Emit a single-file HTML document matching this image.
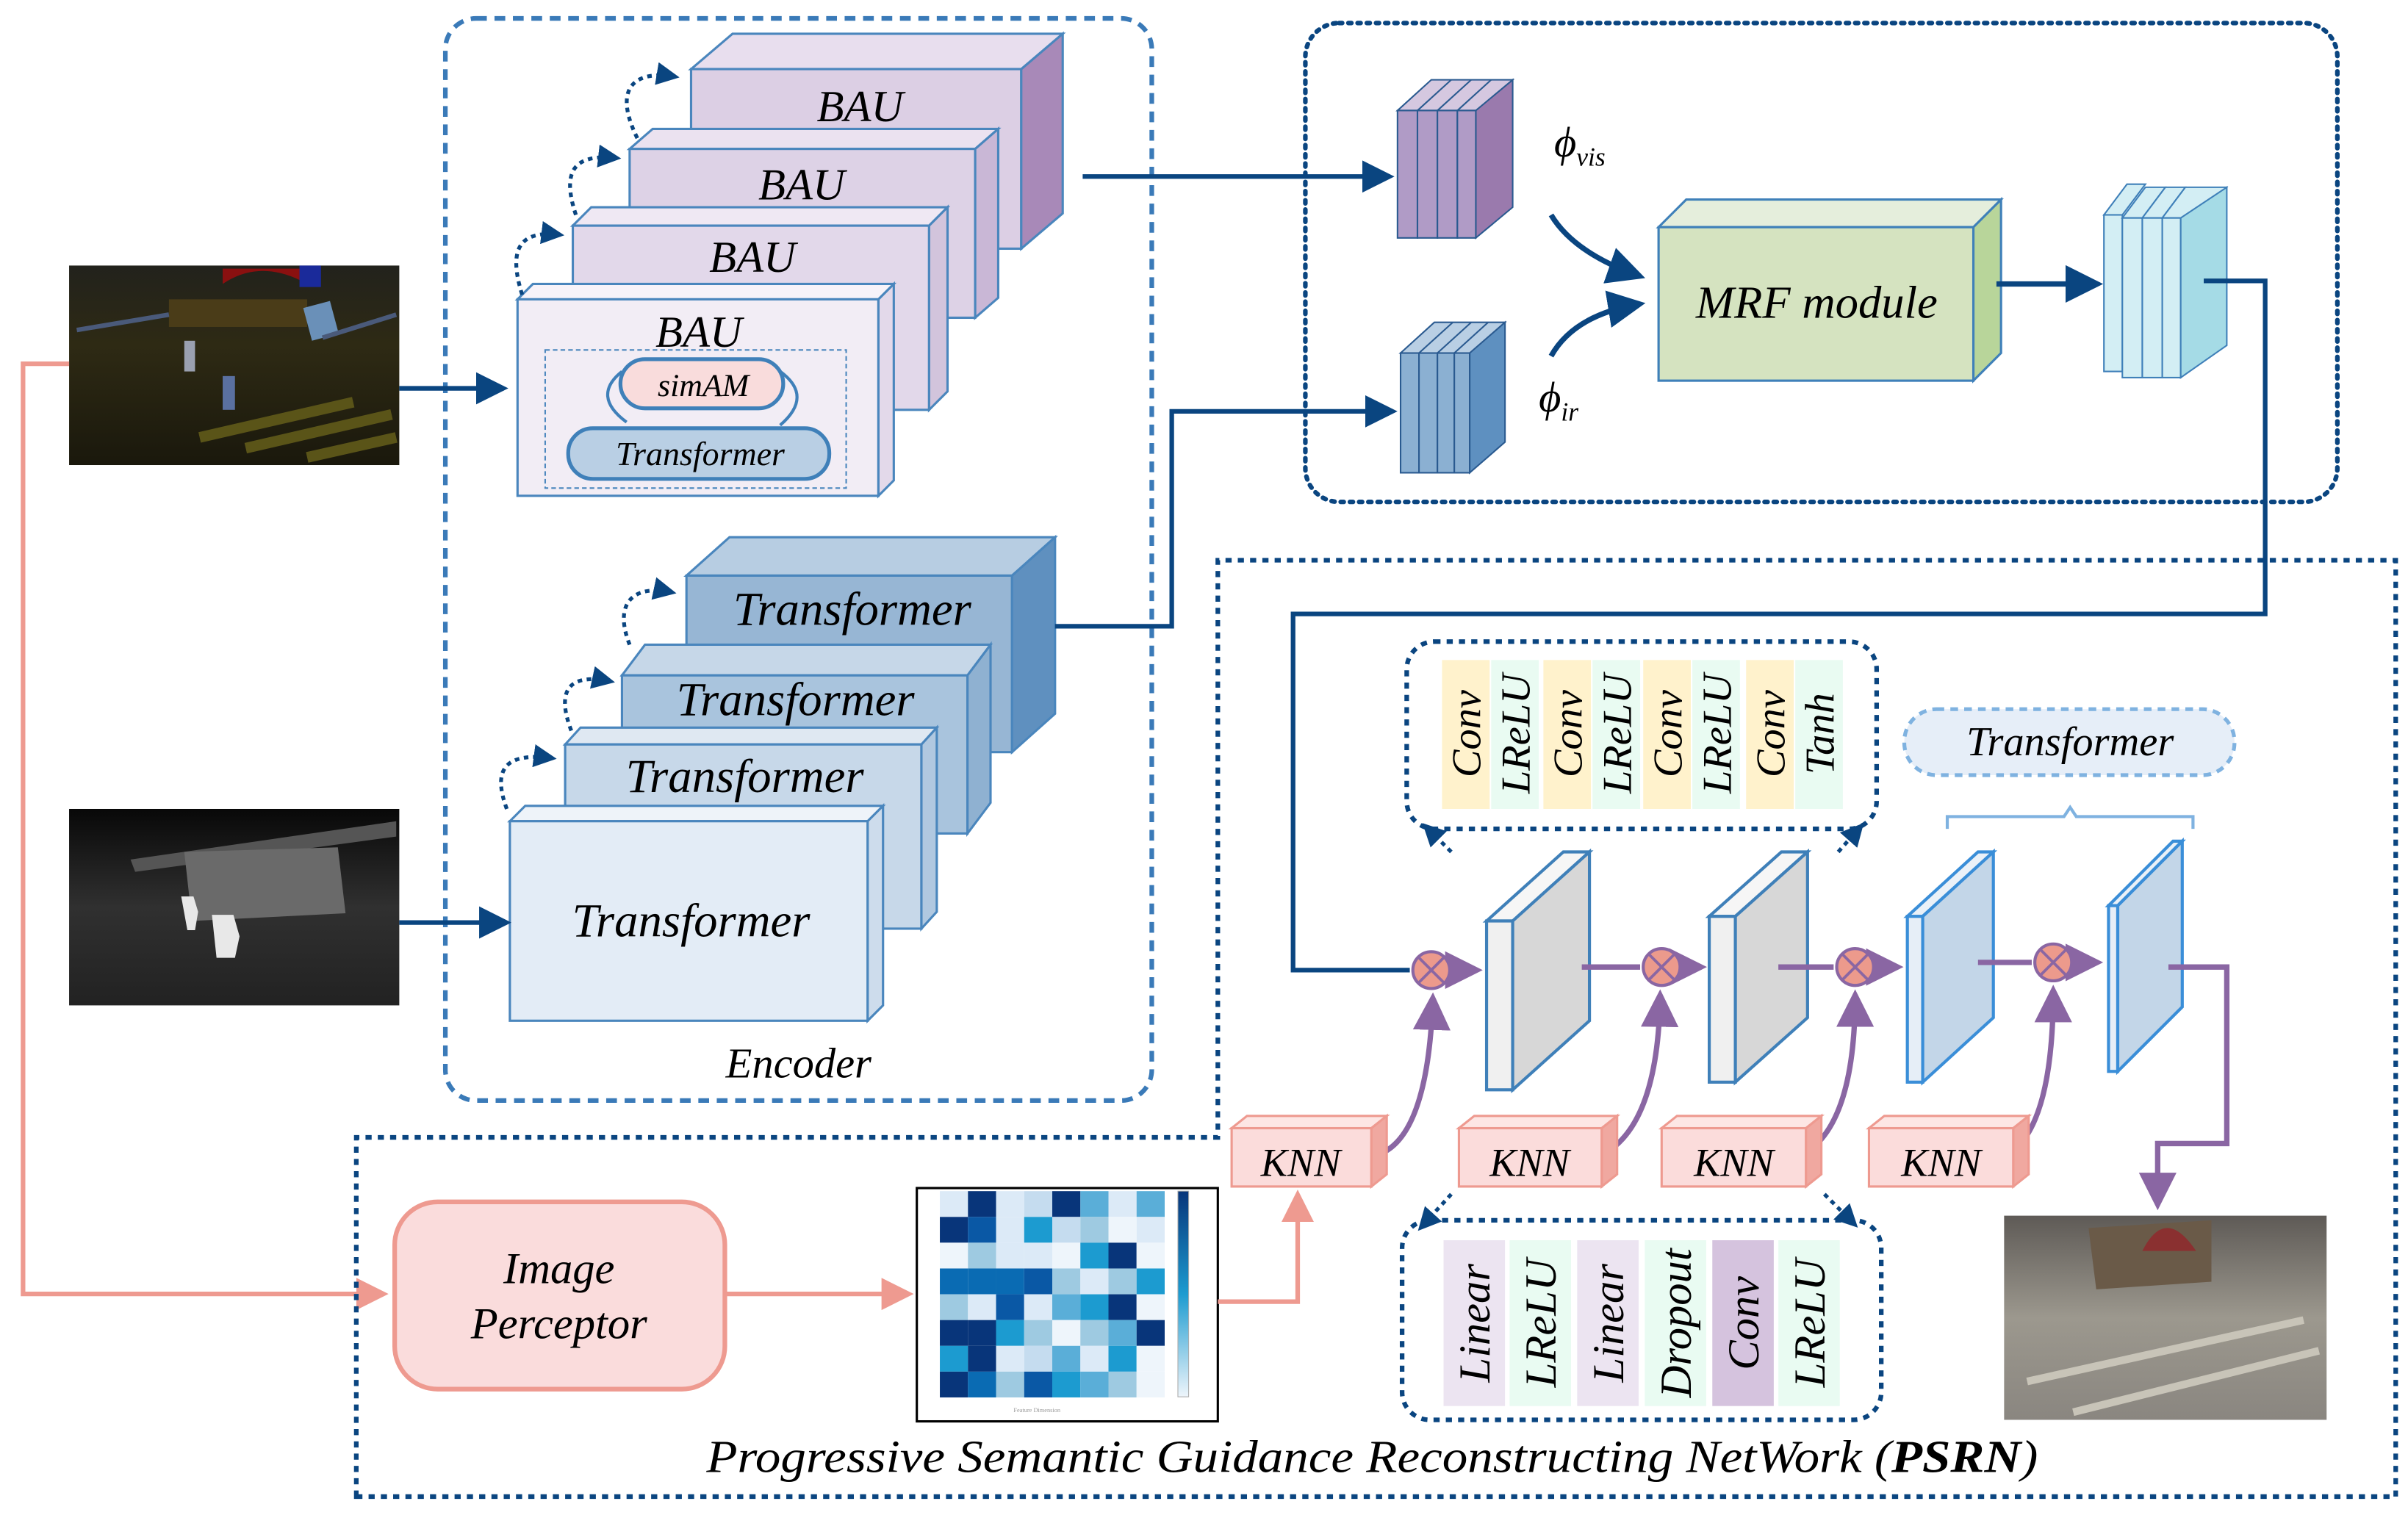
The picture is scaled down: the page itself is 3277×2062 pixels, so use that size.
<!DOCTYPE html>
<html><head><meta charset="utf-8"><style>
html,body{margin:0;padding:0;background:#fff;}
svg{display:block;}
text{font-family:"Liberation Serif","Times New Roman",serif;font-style:italic;fill:#000;}
</style></head><body>
<svg width="3277" height="2062" viewBox="0 0 1568 987" preserveAspectRatio="none" xmlns="http://www.w3.org/2000/svg" font-family="Liberation Serif, serif">
<defs>
<marker id="an" markerWidth="8" markerHeight="8" refX="6" refY="4" orient="auto" markerUnits="strokeWidth"><path d="M0,0.5 L7,4 L0,7.5 Z" fill="#0a4580"/></marker>
<marker id="ap" markerWidth="8" markerHeight="8" refX="6" refY="4" orient="auto" markerUnits="strokeWidth"><path d="M0,0.5 L7,4 L0,7.5 Z" fill="#8a66a3"/></marker>
<marker id="ak" markerWidth="8" markerHeight="8" refX="6" refY="4" orient="auto" markerUnits="strokeWidth"><path d="M0,0.5 L7,4 L0,7.5 Z" fill="#ee9a90"/></marker>
<marker id="ad" markerWidth="6" markerHeight="6" refX="5" refY="3" orient="auto" markerUnits="strokeWidth"><path d="M0,0 L6,3 L0,6 Z" fill="#0a4580"/></marker>
<linearGradient id="vis" x1="0" y1="0" x2="0" y2="1"><stop offset="0" stop-color="#22221c"/><stop offset="0.4" stop-color="#2e2a14"/><stop offset="1" stop-color="#1a180c"/></linearGradient>
<linearGradient id="ir" x1="0" y1="0" x2="0" y2="1"><stop offset="0" stop-color="#080808"/><stop offset="0.5" stop-color="#303030"/><stop offset="1" stop-color="#222"/></linearGradient>
<linearGradient id="out" x1="0" y1="0" x2="0" y2="1"><stop offset="0" stop-color="#5e5a56"/><stop offset="0.5" stop-color="#9c988e"/><stop offset="1" stop-color="#8a8680"/></linearGradient>
<linearGradient id="cb" x1="0" y1="1" x2="0" y2="0"><stop offset="0" stop-color="#eef5fb"/><stop offset="0.5" stop-color="#1c9bd0"/><stop offset="1" stop-color="#08357a"/></linearGradient>
</defs>

<!-- images -->
<rect x="45" y="173" width="215" height="130" fill="url(#vis)"/>
<path d="M145,185 Q170,168 200,185 L200,175 L145,175 Z" fill="#8a1010"/>
<rect x="195" y="173" width="14" height="14" fill="#1a2a9a"/>
<rect x="110" y="195" width="90" height="18" fill="#4a3c18"/>
<rect x="200" y="198" width="18" height="22" fill="#6a90b8" transform="rotate(-15 209 209)"/>
<path d="M130,285 L230,262 M160,292 L255,270 M200,298 L258,285" stroke="#5a5418" stroke-width="7"/>
<path d="M50,215 L110,205 M210,220 L258,205" stroke="#4a5a7a" stroke-width="3"/>
<rect x="120" y="222" width="7" height="20" fill="#9aa0b0"/><rect x="145" y="245" width="8" height="22" fill="#5a70a0"/>
<rect x="45" y="527" width="215" height="128" fill="url(#ir)"/>
<path d="M85,560 L258,535 L258,545 L88,568 Z" fill="#555"/>
<path d="M120,555 L220,552 L225,595 L125,600 Z" fill="#6a6a6a"/>
<path d="M118,584 l8,0 l3,10 l-2,12 l-5,0 z M138,596 l14,0 l4,14 l-3,14 l-12,0 z" fill="#e8e8e8"/>
<rect x="1305" y="792" width="210" height="133" fill="url(#out)"/>
<path d="M1360,800 L1440,795 L1440,835 L1365,840 Z" fill="#6a5a48"/>
<path d="M1395,815 Q1410,785 1430,815 Z" fill="#8a3030"/>
<path d="M1320,900 L1500,860 M1350,920 L1510,880" stroke="#c8c4b8" stroke-width="5"/>

<!-- pink left path -->
<path d="M45,237 L15,237 L15,843 L250,843" fill="none" stroke="#ee9a90" stroke-width="3" marker-end="url(#ak)"/>
<rect x="257" y="783" width="215" height="122" rx="28" fill="#fadcdc" stroke="#ee9a90" stroke-width="3"/>
<text x="364" y="836" font-size="29" text-anchor="middle">Image</text>
<text x="364" y="872" font-size="29" text-anchor="middle">Perceptor</text>
<path d="M472,843 L592,843" stroke="#ee9a90" stroke-width="3" marker-end="url(#ak)"/>

<!-- heatmap -->
<rect x="597" y="774" width="196" height="152" fill="#fff" stroke="#000" stroke-width="1.5"/>

<!-- encoder box -->
<rect x="290" y="12" width="460" height="705" rx="20" fill="none" stroke="#3a7ab8" stroke-width="3" stroke-dasharray="7,5"/>
<text x="520" y="702" font-size="28" text-anchor="middle">Encoder</text>

<!-- BAU stack -->
<g stroke="#4a86bd" stroke-width="1.5">
<polygon points="450,45 477,22 692,22 665,45" fill="#e8deee"/><rect x="450" y="45" width="215" height="117" fill="#dccfe4"/><polygon points="665,45 692,22 692,139 665,162" fill="#a889b8"/>
<polygon points="410,97 425,84 650,84 635,97" fill="#ebe2f0"/><rect x="410" y="97" width="225" height="110" fill="#ddd2e6"/><polygon points="635,97 650,84 650,194 635,207" fill="#c9b7d6"/>
<polygon points="373,147 385,135 617,135 605,147" fill="#efe8f3"/><rect x="373" y="147" width="232" height="120" fill="#e2d8ea"/><polygon points="605,147 617,135 617,255 605,267" fill="#d2c4dc"/>
<polygon points="337,195 347,185 582,185 572,195" fill="#f7f3f9"/><rect x="337" y="195" width="235" height="128" fill="#f2edf5"/><polygon points="572,195 582,185 582,313 572,323" fill="#e3d9ea"/>
</g>
<text x="560" y="79" font-size="29" text-anchor="middle">BAU</text>
<text x="522" y="130" font-size="29" text-anchor="middle">BAU</text>
<text x="490" y="177" font-size="29" text-anchor="middle">BAU</text>
<text x="455" y="226" font-size="29" text-anchor="middle">BAU</text>
<rect x="355" y="228" width="196" height="90" fill="none" stroke="#4a86bd" stroke-width="1" stroke-dasharray="3,2"/>
<path d="M408,275 Q385,258 405,242 M508,242 Q530,258 508,277" fill="none" stroke="#3f80b9" stroke-width="2"/>
<rect x="404" y="234" width="106" height="32" rx="16" fill="#f9dcdc" stroke="#3f80b9" stroke-width="2.5"/>
<text x="458" y="258" font-size="21" text-anchor="middle">simAM</text>
<rect x="370" y="279" width="170" height="33" rx="16" fill="#b9cfe4" stroke="#3f80b9" stroke-width="2.5"/>
<text x="456" y="303" font-size="22" text-anchor="middle">Transformer</text>

<!-- Transformer stack -->
<g stroke="#4a86bd" stroke-width="1.5">
<polygon points="447,375 475,350 687,350 659,375" fill="#b7cde2"/><rect x="447" y="375" width="212" height="115" fill="#97b6d4"/><polygon points="659,375 687,350 687,465 659,490" fill="#5f90bf"/>
<polygon points="405,440 420,420 645,420 630,440" fill="#c6d7e8"/><rect x="405" y="440" width="225" height="103" fill="#a9c4dd"/><polygon points="630,440 645,420 645,523 630,543" fill="#8fb1d1"/>
<polygon points="368,485 378,474 610,474 600,485" fill="#dfe8f2"/><rect x="368" y="485" width="232" height="120" fill="#c7d8e9"/><polygon points="600,485 610,474 610,594 600,605" fill="#b0c8e0"/>
<polygon points="332,535 342,525 575,525 565,535" fill="#eef3f9"/><rect x="332" y="535" width="233" height="130" fill="#e3ecf6"/><polygon points="565,535 575,525 575,655 565,665" fill="#cddcec"/>
</g>
<text x="555" y="407" font-size="31" text-anchor="middle">Transformer</text>
<text x="518" y="466" font-size="31" text-anchor="middle">Transformer</text>
<text x="485" y="516" font-size="31" text-anchor="middle">Transformer</text>
<text x="450" y="610" font-size="31" text-anchor="middle">Transformer</text>

<!-- self loops -->
<g fill="none" stroke="#0a4580" stroke-width="2.5" stroke-dasharray="3,3">
<path d="M415,90 C400,60 410,45 440,50" marker-end="url(#ad)"/>
<path d="M375,140 C365,110 375,100 402,103" marker-end="url(#ad)"/>
<path d="M340,192 C330,160 340,150 365,153" marker-end="url(#ad)"/>
<path d="M410,420 C400,395 410,380 438,386" marker-end="url(#ad)"/>
<path d="M372,476 C362,450 370,438 398,444" marker-end="url(#ad)"/>
<path d="M330,527 C320,500 330,490 360,494" marker-end="url(#ad)"/>
</g>

<!-- input arrows -->
<path d="M260,253 L328,253" stroke="#0a4580" stroke-width="3" marker-end="url(#an)"/>
<path d="M260,601 L330,601" stroke="#0a4580" stroke-width="3" marker-end="url(#an)"/>

<!-- MRF box -->
<rect x="850" y="15" width="672" height="312" rx="22" fill="none" stroke="#0a4580" stroke-width="3" stroke-dasharray="2,4" stroke-linecap="round"/>
<path d="M705,115 L905,115" stroke="#0a4580" stroke-width="3" marker-end="url(#an)"/>
<path d="M687,408 L763,408 L763,268 L907,268" fill="none" stroke="#0a4580" stroke-width="3" marker-end="url(#an)"/>

<!-- features -->
<g stroke="#2a5a90" stroke-width="1">
<polygon points="910,72 932,52 985,52 963,72" fill="#d5c8e0"/>
<polygon points="961,72 985,52 985,135 961,155" fill="#9a7aad"/>
<rect x="910" y="72" width="13" height="83" fill="#b09bc6"/><rect x="923" y="72" width="13" height="83" fill="#b09bc6"/><rect x="936" y="72" width="13" height="83" fill="#b09bc6"/><rect x="949" y="72" width="12" height="83" fill="#b09bc6"/>
<line x1="923" y1="72" x2="945" y2="52"/><line x1="936" y1="72" x2="958" y2="52"/><line x1="949" y1="72" x2="971" y2="52"/>
<polygon points="912,230 934,210 980,210 958,230" fill="#b9cfe4"/>
<polygon points="957,230 980,210 980,288 957,308" fill="#5e90c0"/>
<rect x="912" y="230" width="12" height="78" fill="#8bb0d2"/><rect x="924" y="230" width="12" height="78" fill="#8bb0d2"/><rect x="936" y="230" width="11" height="78" fill="#8bb0d2"/><rect x="947" y="230" width="10" height="78" fill="#8bb0d2"/>
<line x1="924" y1="230" x2="946" y2="210"/><line x1="936" y1="230" x2="958" y2="210"/><line x1="947" y1="230" x2="969" y2="210"/>
</g>
<text x="1012" y="102" font-size="28">ϕ<tspan font-size="17" dy="6">vis</tspan></text>
<text x="1002" y="268" font-size="28">ϕ<tspan font-size="17" dy="6">ir</tspan></text>
<path d="M1010,140 Q1025,165 1068,180" fill="none" stroke="#0a4580" stroke-width="3.5" marker-end="url(#an)"/>
<path d="M1010,232 Q1025,205 1068,198" fill="none" stroke="#0a4580" stroke-width="3.5" marker-end="url(#an)"/>
<g stroke="#3f80b9" stroke-width="1.5">
<polygon points="1080,148 1098,130 1303,130 1285,148" fill="#e5eedc"/>
<rect x="1080" y="148" width="205" height="100" fill="#d5e3c0"/>
<polygon points="1285,148 1303,130 1303,230 1285,248" fill="#b8d59a"/>
</g>
<text x="1183" y="207" font-size="30" text-anchor="middle">MRF module</text>
<path d="M1300,185 L1366,185" stroke="#0a4580" stroke-width="3.5" marker-end="url(#an)"/>
<g stroke="#3f80b9" stroke-width="1">
<polygon points="1370,140 1385,120 1397,120 1382,140" fill="#d3eef4"/><rect x="1370" y="140" width="12" height="102" fill="#d3eef4"/>
<polygon points="1382,142 1397,122 1410,122 1395,142" fill="#d3eef4"/><rect x="1382" y="142" width="13" height="104" fill="#d3eef4"/>
<polygon points="1395,142 1410,122 1423,122 1408,142" fill="#d3eef4"/><rect x="1395" y="142" width="13" height="104" fill="#d3eef4"/>
<polygon points="1408,142 1423,122 1450,122 1435,142" fill="#d3eef4"/><rect x="1408" y="142" width="12" height="104" fill="#d3eef4"/>
<polygon points="1420,142 1450,122 1450,225 1420,246" fill="#a5dbe6"/>
</g>
<path d="M1435,183 L1475,183 L1475,400 L842,400 L842,632 L918,632" fill="none" stroke="#0a4580" stroke-width="3"/>

<!-- PSRN box -->
<path d="M232,975 L232,741 L793,741 L793,365 L1560,365 L1560,975 Z" fill="none" stroke="#0a4580" stroke-width="3" stroke-dasharray="4,4"/>
<text x="460" y="959" font-size="30" textLength="867" lengthAdjust="spacingAndGlyphs">Progressive Semantic Guidance Reconstructing NetWork (<tspan font-weight="bold">PSRN</tspan>)</text>

<!-- conv block -->
<rect x="916" y="418" width="306" height="122" rx="18" fill="none" stroke="#0a4580" stroke-width="3" stroke-dasharray="4,4"/>
<rect x="939" y="430" width="31" height="97" fill="#fff2cc"/><rect x="971" y="430" width="31" height="97" fill="#e9fbf2"/>
<rect x="1005" y="430" width="31" height="97" fill="#fff2cc"/><rect x="1037" y="430" width="31" height="97" fill="#e9fbf2"/>
<rect x="1070" y="430" width="31" height="97" fill="#fff2cc"/><rect x="1102" y="430" width="31" height="97" fill="#e9fbf2"/>
<rect x="1137" y="430" width="31" height="97" fill="#fff2cc"/><rect x="1169" y="430" width="31" height="97" fill="#e9fbf2"/>
<g font-size="27">
<text transform="translate(964,478) rotate(-90)" text-anchor="middle">Conv</text>
<text transform="translate(996,478) rotate(-90)" text-anchor="middle">LReLU</text>
<text transform="translate(1030,478) rotate(-90)" text-anchor="middle">Conv</text>
<text transform="translate(1062,478) rotate(-90)" text-anchor="middle">LReLU</text>
<text transform="translate(1095,478) rotate(-90)" text-anchor="middle">Conv</text>
<text transform="translate(1127,478) rotate(-90)" text-anchor="middle">LReLU</text>
<text transform="translate(1162,478) rotate(-90)" text-anchor="middle">Conv</text>
<text transform="translate(1194,478) rotate(-90)" text-anchor="middle">Tanh</text>
</g>
<path d="M945,555 L928,538" stroke="#0a4580" stroke-width="2.5" stroke-dasharray="3,3" marker-end="url(#ad)"/>
<path d="M1197,555 L1212,538" stroke="#0a4580" stroke-width="2.5" stroke-dasharray="3,3" marker-end="url(#ad)"/>

<!-- transformer pill -->
<rect x="1240" y="462" width="215" height="43" rx="21" fill="#e6eef8" stroke="#7fb2e0" stroke-width="2.5" stroke-dasharray="5,4"/>
<text x="1348" y="492" font-size="27" text-anchor="middle">Transformer</text>
<path d="M1268,540 L1268,532 L1344,532 L1348,526 L1352,532 L1428,532 L1428,540" fill="none" stroke="#7fb2e0" stroke-width="2"/>

<!-- plates -->
<g stroke="#3f80b9" stroke-width="2">
<polygon points="968,600 1018,555 1035,555 985,600" fill="#f6f6f6"/><rect x="968" y="600" width="17" height="110" fill="#f0f0f0"/><polygon points="985,600 1035,555 1035,665 985,710" fill="#d7d7d7"/>
<polygon points="1113,597 1160,555 1177,555 1130,597" fill="#f6f6f6"/><rect x="1113" y="597" width="17" height="108" fill="#f0f0f0"/><polygon points="1130,597 1177,555 1177,663 1130,705" fill="#d7d7d7"/>
</g>
<g stroke="#3a8ed8" stroke-width="2">
<polygon points="1242,597 1288,555 1298,555 1252,597" fill="#eaf1f8"/><rect x="1242" y="597" width="10" height="108" fill="#e6eef7"/><polygon points="1252,597 1298,555 1298,663 1252,705" fill="#c3d6e8"/>
<polygon points="1373,590 1415,548 1421,548 1379,590" fill="#eaf1f8"/><rect x="1373" y="590" width="6" height="108" fill="#e6eef7"/><polygon points="1379,590 1421,548 1421,656 1379,698" fill="#c3d6e8"/>
</g>

<!-- purple flows -->
<g fill="none" stroke="#8a66a3" stroke-width="3.5">
<path d="M944,632 L962,632" marker-end="url(#ap)"/>
<path d="M1030,630 L1068,630"/><path d="M1094,630 L1108,630" marker-end="url(#ap)"/>
<path d="M1158,630 L1194,630"/><path d="M1220,630 L1236,630" marker-end="url(#ap)"/>
<path d="M1288,627 L1323,627"/><path d="M1349,627 L1366,627" marker-end="url(#ap)"/>
<path d="M1412,630 L1450,630 L1450,745 L1405,745 L1405,785" marker-end="url(#ap)"/>
<path d="M898,752 Q930,740 933,650" marker-end="url(#ap)"/>
<path d="M1050,748 Q1080,725 1081,648" marker-end="url(#ap)"/>
<path d="M1180,748 Q1208,725 1208,648" marker-end="url(#ap)"/>
<path d="M1313,748 Q1337,725 1337,645" marker-end="url(#ap)"/>
</g>
<g fill="#ec9a8c" stroke="#8a66a3" stroke-width="2">
<circle cx="932" cy="632" r="12"/><circle cx="1082" cy="630" r="12"/><circle cx="1208" cy="630" r="12"/><circle cx="1337" cy="627" r="12"/>
</g>
<g stroke="#8a66a3" stroke-width="1.8">
<path d="M924,624 l16,16 M940,624 l-16,16"/><path d="M1074,622 l16,16 M1090,622 l-16,16"/><path d="M1200,622 l16,16 M1216,622 l-16,16"/><path d="M1329,619 l16,16 M1345,619 l-16,16"/>
</g>

<!-- KNN -->
<g stroke="#ee9a90" stroke-width="1.5">
<polygon points="802,735 812,727 903,727 893,735" fill="#fde6e4"/><rect x="802" y="735" width="91" height="38" fill="#fbdcdb"/><polygon points="893,735 903,727 903,765 893,773" fill="#f0a8a0"/>
<polygon points="950,735 960,727 1053,727 1043,735" fill="#fde6e4"/><rect x="950" y="735" width="93" height="38" fill="#fbdcdb"/><polygon points="1043,735 1053,727 1053,765 1043,773" fill="#f0a8a0"/>
<polygon points="1082,735 1092,727 1186,727 1176,735" fill="#fde6e4"/><rect x="1082" y="735" width="94" height="38" fill="#fbdcdb"/><polygon points="1176,735 1186,727 1186,765 1176,773" fill="#f0a8a0"/>
<polygon points="1217,735 1227,727 1321,727 1311,735" fill="#fde6e4"/><rect x="1217" y="735" width="94" height="38" fill="#fbdcdb"/><polygon points="1311,735 1321,727 1321,765 1311,773" fill="#f0a8a0"/>
</g>
<g font-size="26" text-anchor="middle">
<text x="847" y="766">KNN</text><text x="996" y="766">KNN</text><text x="1129" y="766">KNN</text><text x="1264" y="766">KNN</text>
</g>
<path d="M793,848 L845,848 L845,778" fill="none" stroke="#ee9a90" stroke-width="3" marker-end="url(#ak)"/>

<!-- linear block -->
<rect x="913" y="795" width="312" height="130" rx="18" fill="none" stroke="#0a4580" stroke-width="3" stroke-dasharray="4,4"/>
<path d="M945,778 L925,800" stroke="#0a4580" stroke-width="2.5" stroke-dasharray="3,3" marker-end="url(#ad)"/>
<path d="M1188,778 L1208,798" stroke="#0a4580" stroke-width="2.5" stroke-dasharray="3,3" marker-end="url(#ad)"/>
<rect x="940" y="808" width="40" height="108" fill="#ece4f1"/><rect x="983" y="808" width="40" height="108" fill="#e9fbf2"/>
<rect x="1027" y="808" width="40" height="108" fill="#ece4f1"/><rect x="1071" y="808" width="40" height="108" fill="#e9fbf2"/>
<rect x="1115" y="808" width="40" height="108" fill="#d5c3de"/><rect x="1158" y="808" width="40" height="108" fill="#e9fbf2"/>
<g font-size="29">
<text transform="translate(970,862) rotate(-90)" text-anchor="middle">Linear</text>
<text transform="translate(1013,862) rotate(-90)" text-anchor="middle">LReLU</text>
<text transform="translate(1057,862) rotate(-90)" text-anchor="middle">Linear</text>
<text transform="translate(1101,862) rotate(-90)" text-anchor="middle">Dropout</text>
<text transform="translate(1145,862) rotate(-90)" text-anchor="middle">Conv</text>
<text transform="translate(1188,862) rotate(-90)" text-anchor="middle">LReLU</text>
</g>

<!-- heatmap cells -->
<g>
<rect x="612" y="776" width="18.3" height="16.8" fill="#dceaf7"/><rect x="630.3" y="776" width="18.3" height="16.8" fill="#08357a"/><rect x="648.6" y="776" width="18.3" height="16.8" fill="#dceaf7"/><rect x="666.9" y="776" width="18.3" height="16.8" fill="#c5dcef"/><rect x="685.2" y="776" width="18.3" height="16.8" fill="#08357a"/><rect x="703.5" y="776" width="18.3" height="16.8" fill="#5aaed8"/><rect x="721.8" y="776" width="18.3" height="16.8" fill="#dceaf7"/><rect x="740.1" y="776" width="18.3" height="16.8" fill="#5aaed8"/>
<rect x="612" y="792.8" width="18.3" height="16.8" fill="#08357a"/><rect x="630.3" y="792.8" width="18.3" height="16.8" fill="#0a58a5"/><rect x="648.6" y="792.8" width="18.3" height="16.8" fill="#dceaf7"/><rect x="666.9" y="792.8" width="18.3" height="16.8" fill="#1c9bd0"/><rect x="685.2" y="792.8" width="18.3" height="16.8" fill="#c5dcef"/><rect x="703.5" y="792.8" width="18.3" height="16.8" fill="#9ecae1"/><rect x="721.8" y="792.8" width="18.3" height="16.8" fill="#eef5fb"/><rect x="740.1" y="792.8" width="18.3" height="16.8" fill="#dceaf7"/>
<rect x="612" y="809.6" width="18.3" height="16.8" fill="#eef5fb"/><rect x="630.3" y="809.6" width="18.3" height="16.8" fill="#9ecae1"/><rect x="648.6" y="809.6" width="18.3" height="16.8" fill="#dceaf7"/><rect x="666.9" y="809.6" width="18.3" height="16.8" fill="#dceaf7"/><rect x="685.2" y="809.6" width="18.3" height="16.8" fill="#eef5fb"/><rect x="703.5" y="809.6" width="18.3" height="16.8" fill="#1c9bd0"/><rect x="721.8" y="809.6" width="18.3" height="16.8" fill="#08357a"/><rect x="740.1" y="809.6" width="18.3" height="16.8" fill="#eef5fb"/>
<rect x="612" y="826.4" width="18.3" height="16.8" fill="#0a6bb3"/><rect x="630.3" y="826.4" width="18.3" height="16.8" fill="#0a6bb3"/><rect x="648.6" y="826.4" width="18.3" height="16.8" fill="#0a6bb3"/><rect x="666.9" y="826.4" width="18.3" height="16.8" fill="#0a58a5"/><rect x="685.2" y="826.4" width="18.3" height="16.8" fill="#9ecae1"/><rect x="703.5" y="826.4" width="18.3" height="16.8" fill="#dceaf7"/><rect x="721.8" y="826.4" width="18.3" height="16.8" fill="#9ecae1"/><rect x="740.1" y="826.4" width="18.3" height="16.8" fill="#1c9bd0"/>
<rect x="612" y="843.2" width="18.3" height="16.8" fill="#9ecae1"/><rect x="630.3" y="843.2" width="18.3" height="16.8" fill="#dceaf7"/><rect x="648.6" y="843.2" width="18.3" height="16.8" fill="#0a58a5"/><rect x="666.9" y="843.2" width="18.3" height="16.8" fill="#dceaf7"/><rect x="685.2" y="843.2" width="18.3" height="16.8" fill="#5aaed8"/><rect x="703.5" y="843.2" width="18.3" height="16.8" fill="#1c9bd0"/><rect x="721.8" y="843.2" width="18.3" height="16.8" fill="#08357a"/><rect x="740.1" y="843.2" width="18.3" height="16.8" fill="#eef5fb"/>
<rect x="612" y="860" width="18.3" height="16.8" fill="#08357a"/><rect x="630.3" y="860" width="18.3" height="16.8" fill="#08357a"/><rect x="648.6" y="860" width="18.3" height="16.8" fill="#1c9bd0"/><rect x="666.9" y="860" width="18.3" height="16.8" fill="#9ecae1"/><rect x="685.2" y="860" width="18.3" height="16.8" fill="#eef5fb"/><rect x="703.5" y="860" width="18.3" height="16.8" fill="#9ecae1"/><rect x="721.8" y="860" width="18.3" height="16.8" fill="#5aaed8"/><rect x="740.1" y="860" width="18.3" height="16.8" fill="#08357a"/>
<rect x="612" y="876.8" width="18.3" height="16.8" fill="#1c9bd0"/><rect x="630.3" y="876.8" width="18.3" height="16.8" fill="#08357a"/><rect x="648.6" y="876.8" width="18.3" height="16.8" fill="#dceaf7"/><rect x="666.9" y="876.8" width="18.3" height="16.8" fill="#c5dcef"/><rect x="685.2" y="876.8" width="18.3" height="16.8" fill="#5aaed8"/><rect x="703.5" y="876.8" width="18.3" height="16.8" fill="#dceaf7"/><rect x="721.8" y="876.8" width="18.3" height="16.8" fill="#1c9bd0"/><rect x="740.1" y="876.8" width="18.3" height="16.8" fill="#eef5fb"/>
<rect x="612" y="893.6" width="18.3" height="16.8" fill="#08357a"/><rect x="630.3" y="893.6" width="18.3" height="16.8" fill="#0a6bb3"/><rect x="648.6" y="893.6" width="18.3" height="16.8" fill="#9ecae1"/><rect x="666.9" y="893.6" width="18.3" height="16.8" fill="#0a58a5"/><rect x="685.2" y="893.6" width="18.3" height="16.8" fill="#1c9bd0"/><rect x="703.5" y="893.6" width="18.3" height="16.8" fill="#5aaed8"/><rect x="721.8" y="893.6" width="18.3" height="16.8" fill="#9ecae1"/><rect x="740.1" y="893.6" width="18.3" height="16.8" fill="#eef5fb"/>
</g>
<rect x="767" y="776" width="7" height="134" fill="url(#cb)" stroke="#aaa" stroke-width="0.5"/>
<g font-size="4" fill="#999" font-style="normal">
<text x="660" y="920" style="font-style:normal;fill:#999">Feature Dimension</text>
</g>
</svg>
</body></html>
